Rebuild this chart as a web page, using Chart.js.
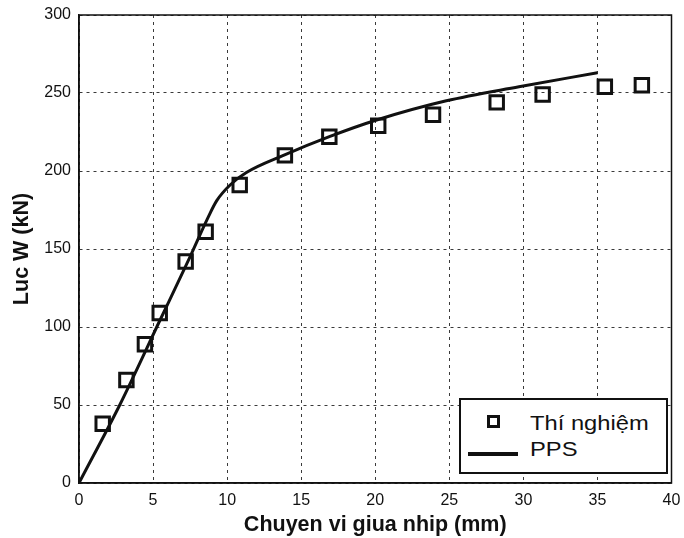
<!DOCTYPE html>
<html>
<head>
<meta charset="utf-8">
<script src="https://cdn.jsdelivr.net/npm/chart.js@4.4.0/dist/chart.umd.min.js"></script>
<style>
  html, body { margin: 0; padding: 0; background: #fff; }
  #wrap { position: relative; width: 684px; height: 538px; }
  #legend {
    position: absolute; left: 459px; top: 398px; width: 205px; height: 72px;
    border: 2px solid #111; background: #fff;
    font-family: "Liberation Sans", Arial, sans-serif; font-size: 21px; color: #111;
  }
  .row { position: absolute; left: 0; width: 200px; height: 26px; line-height: 26px; }
  .sq { position: absolute; left: 26px; top: 5px; width: 7px; height: 7px; border: 3px solid #111; }
  .ln { position: absolute; left: 7px; top: 16px; width: 50px; height: 4px; background: #111; }
  .lbl { position: absolute; left: 69px; white-space: nowrap; transform: scaleX(1.13); transform-origin: left center; }
</style>
</head>
<body>
<div id="wrap">
  <canvas id="chart" width="684" height="538"></canvas>
  <div id="legend">
    <div class="row" style="top:10px;"><span class="sq"></span><span class="lbl">Thí nghiệm</span></div>
    <div class="row" style="top:36px;"><span class="ln"></span><span class="lbl">PPS</span></div>
  </div>
</div>
<script>
// số liệu thí nghiệm
const testX = [1.6, 3.2, 4.45, 5.45, 7.2, 8.55, 10.85, 13.9, 16.9, 20.2, 23.9, 28.2, 31.3, 35.5, 38.0];
const testY = [38, 66, 89, 109, 142, 161, 191, 210, 222, 229, 236, 244, 249, 254, 255];

// đường PPS
const ppsX = [0, 2.75, 5.45, 7.4, 8.7, 9.3, 10.2, 11.3, 13.8, 16.9, 20.2, 24.8, 29.7, 35];
const ppsY = [0, 50, 104, 143, 170, 181, 191, 199, 210, 222, 233, 245, 254, 263];

const xTicks = [0, 5, 10, 15, 20, 25, 30, 35, 40];
const yTicks = [0, 50, 100, 150, 200, 250, 300];

const FONT = '"Liberation Sans", Arial, sans-serif';
const INK = '#111';
const GRID = '#3a3a3a';

function toPoints(xs, ys) {
    return xs.map((x, i) => ({ x: x, y: ys[i] }));
}

// vẽ khung viền vùng đồ thị
const frame = {
    id: 'frame',
    afterDatasetsDraw(chart) {
        const a = chart.chartArea;
        const ctx = chart.ctx;
        ctx.save();
        ctx.strokeStyle = INK;
        ctx.lineWidth = 1.5;
        ctx.strokeRect(a.left, a.top, a.right - a.left, a.bottom - a.top);
        ctx.restore();
    }
};

new Chart(document.getElementById('chart'), {
    type: 'scatter',
    data: {
        datasets: [{
            label: 'Thí nghiệm',
            data: toPoints(testX, testY),
            pointStyle: 'rect',
            pointRadius: 9.5,
            pointHoverRadius: 9.5,
            pointBorderWidth: 3,
            borderColor: INK,
            backgroundColor: 'rgba(255,255,255,0)',
            showLine: false
        }, {
            label: 'PPS',
            data: toPoints(ppsX, ppsY),
            showLine: true,
            borderColor: INK,
            borderWidth: 3,
            pointRadius: 0,
            cubicInterpolationMode: 'monotone'
        }]
    },
    options: {
        responsive: false,
        animation: false,
        layout: { padding: { left: 0, top: 15, right: 12, bottom: 0 } },
        plugins: { legend: { display: false }, tooltip: { enabled: false } },
        scales: {
            x: {
                type: 'linear', min: 0, max: 40,
                afterBuildTicks: s => { s.ticks = xTicks.map(v => ({ value: v })); },
                afterFit: s => { s.height = 55; s.paddingLeft = 0; s.paddingRight = 0; },
                ticks: { color: INK, font: { family: FONT, size: 16 }, padding: 8, maxRotation: 0 },
                grid: { color: GRID, lineWidth: 1, drawTicks: false },
                border: { display: true, color: INK, width: 1.5, dash: [3, 4] },
                title: { display: true, text: 'Chuyen vi giua nhip (mm)', color: INK,
                         font: { family: FONT, size: 21.5, weight: 'bold' }, padding: { top: 0, bottom: 0 } }
            },
            y: {
                type: 'linear', min: 0, max: 300,
                afterBuildTicks: s => { s.ticks = yTicks.map(v => ({ value: v })); },
                afterFit: s => { s.width = 79; s.paddingTop = 0; s.paddingBottom = 0; },
                ticks: { color: INK, font: { family: FONT, size: 16 }, padding: 8 },
                grid: { color: GRID, lineWidth: 1, drawTicks: false },
                border: { display: true, color: INK, width: 1.5, dash: [3, 4] },
                title: { display: true, text: 'Luc W (kN)', color: INK,
                         font: { family: FONT, size: 21.5, weight: 'bold' }, padding: { top: 9, bottom: 0 } }
            }
        }
    },
    plugins: [frame]
});
</script>
</body>
</html>
